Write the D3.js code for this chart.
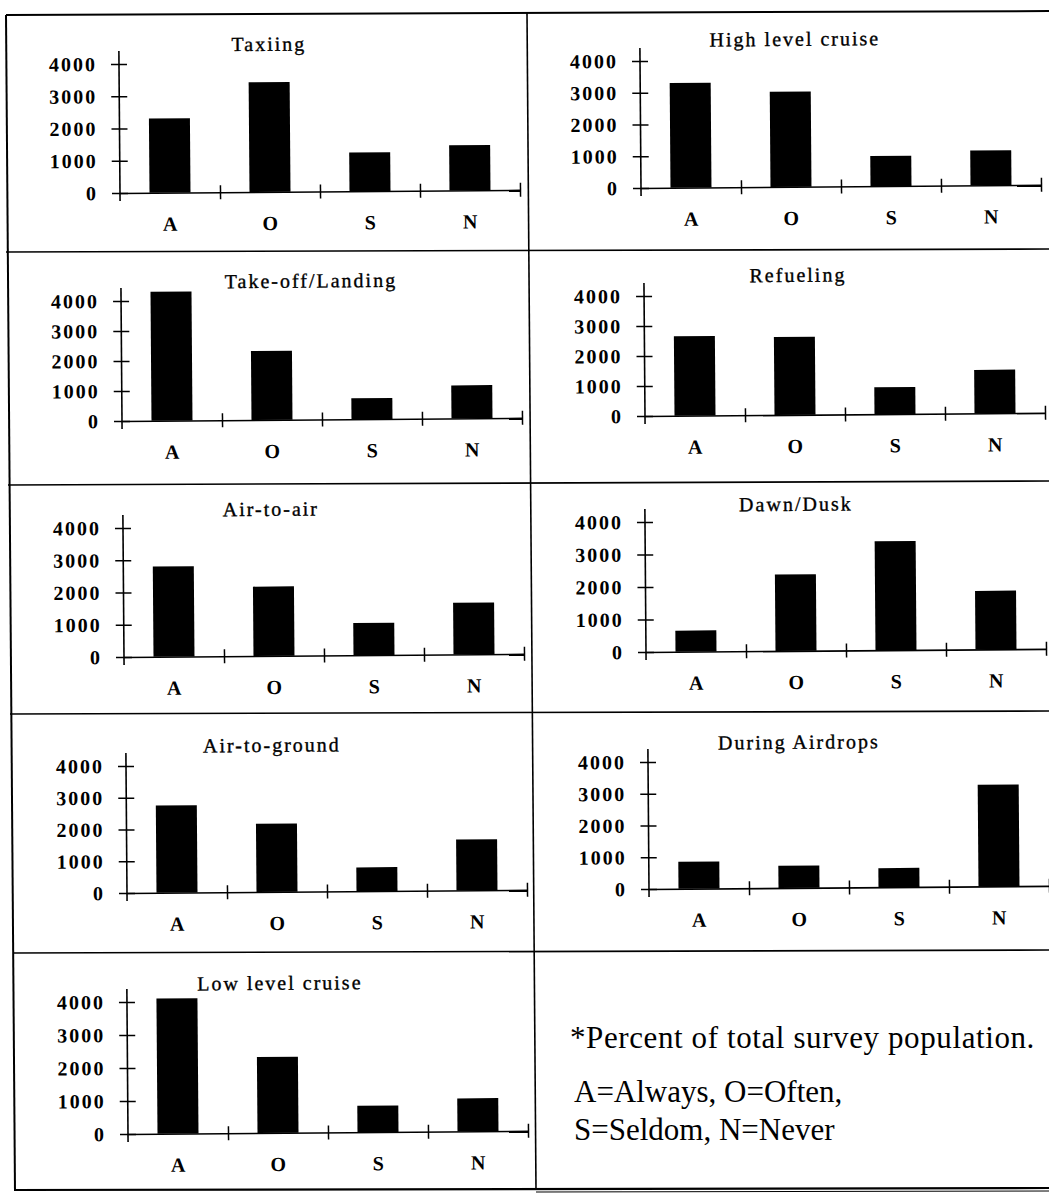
<!DOCTYPE html>
<html>
<head>
<meta charset="utf-8">
<script src="https://cdn.jsdelivr.net/npm/d3@7"></script>
<style>
  body { margin: 0; background: #fff; }
  svg { display: block; }
  .tick-label, .cat-label { font-family: "Liberation Serif", "Times New Roman", serif; font-weight: bold; font-size: 20px; fill: #000; }
  .tick-label { letter-spacing: 2px; }
  .panel-title { font-family: "Liberation Serif", "Times New Roman", serif; font-size: 20px; letter-spacing: 2px; fill: #000; stroke: #000; stroke-width: 0.35px; }
  .note { font-family: "Liberation Serif", "Times New Roman", serif; font-size: 31px; fill: #000; }
</style>
</head>
<body>
<svg id="chart" width="1049" height="1193"></svg>
<script>
// Response categories and value axis
const categories = ["A", "O", "S", "N"];
const yTicks = [0, 1000, 2000, 3000, 4000];

// Panel titles, in reading order (left, right, left, right ...)
const titles = [
  "Taxiing", "High level cruise",
  "Take-off/Landing", "Refueling",
  "Air-to-air", "Dawn/Dusk",
  "Air-to-ground", "During Airdrops",
  "Low level cruise"
];

// Counts per category (A, O, S, N) for each flight phase
const taxiing         = [2300, 3400, 1200, 1400];
const highLevelCruise = [3300, 3000,  950, 1100];
const takeoffLanding  = [4300, 2300,  700, 1100];
const refueling       = [2650, 2600,  900, 1450];
const airToAir        = [2800, 2150, 1000, 1600];
const dawnDusk        = [ 650, 2350, 3350, 1800];
const airToGround     = [2750, 2150,  750, 1600];
const duringAirdrops  = [ 850,  700,  600, 3200];
const lowLevelCruise  = [4100, 2300,  800, 1000];

// Key text shown in the last cell
const notes = [
  "*Percent of total survey population.",
  "A=Always, O=Often,",
  "S=Seldom, N=Never"
];

const series = [
  taxiing, highLevelCruise,
  takeoffLanding, refueling,
  airToAir, dawnDusk,
  airToGround, duringAirdrops,
  lowLevelCruise
];

// Placement of each small chart: axis origin x, pixel rows of 4000 and 0, title centre
const layout = [
  { x0: 120, yMax:   64, yZero:  193, tx: 270, ty:   52 },
  { x0: 641, yMax:   61, yZero:  188, tx: 796, ty:   47 },
  { x0: 122, yMax:  301, yZero:  421, tx: 312, ty:  289 },
  { x0: 645, yMax:  296, yZero:  416, tx: 799, ty:  283 },
  { x0: 124, yMax:  528, yZero:  657, tx: 272, ty:  517 },
  { x0: 646, yMax:  522, yZero:  652, tx: 797, ty:  512 },
  { x0: 127, yMax:  766, yZero:  893, tx: 273, ty:  753 },
  { x0: 649, yMax:  762, yZero:  889, tx: 800, ty:  750 },
  { x0: 128, yMax: 1002, yZero: 1134, tx: 281, ty:  991 }
];
const tilt = -0.45; // degrees; the whole page sits slightly askew

const svg = d3.select("#chart");

// Cell frame (slightly askew like the rest of the page)
const frame = svg.append("g").attr("fill", "none").attr("stroke", "#000");
const seg = (x1, y1, x2, y2, w) => frame.append("line")
  .attr("x1", x1).attr("y1", y1).attr("x2", x2).attr("y2", y2).attr("stroke-width", w);
seg(6, 15, 1056, 11, 2);           // top
seg(6, 15, 15, 1191, 2);           // left
seg(527, 13, 536, 1190, 1.6);      // centre divider
seg(6, 252, 1056, 249, 1.6);
seg(8, 485, 1056, 481, 1.6);
seg(10, 714, 1056, 711, 1.6);
seg(13, 953, 1056, 950, 1.6);
seg(15, 1190, 1056, 1188, 2.2);    // bottom
seg(536, 1192, 1056, 1191, 1);

// One small bar chart per cell
series.forEach((values, i) => {
  const L = layout[i];
  const x0 = L.x0, x1 = x0 + 400;
  const y = d3.scaleLinear().domain([0, 4000]).range([L.yZero, L.yMax]);
  const x = d3.scaleBand().domain(categories).range([x0, x1])
    .paddingInner(0.59).paddingOuter(0.295);
  const bounds = d3.scaleLinear().domain([0, categories.length]).range([x0, x1]);

  const g = svg.append("g")
    .attr("transform", `rotate(${tilt},${x0},${L.yZero})`);

  // Title
  g.append("text")
    .attr("class", "panel-title")
    .attr("x", L.tx)
    .attr("y", L.ty)
    .attr("text-anchor", "middle")
    .text(titles[i]);

  // Bars
  g.selectAll("rect.bar")
    .data(values)
    .join("rect")
    .attr("class", "bar")
    .attr("x", (d, k) => x(categories[k]))
    .attr("width", x.bandwidth())
    .attr("y", d => y(d))
    .attr("height", d => y(0) - y(d))
    .attr("fill", "#000");

  // Value axis with cross ticks
  const yAxis = g.append("g")
    .attr("transform", `translate(${x0},0)`)
    .call(d3.axisLeft(y).tickValues(yTicks).tickFormat(d3.format("d"))
      .tickSizeInner(8).tickSizeOuter(0).tickPadding(14));
  yAxis.select(".domain").remove();
  yAxis.selectAll(".tick line").attr("x1", 8).attr("x2", -8).attr("stroke-width", 1.5);
  yAxis.selectAll(".tick text").attr("class", "tick-label").attr("font-size", null).attr("font-family", null);
  yAxis.append("line")
    .attr("x1", 0).attr("x2", 0)
    .attr("y1", y(4000) - 13).attr("y2", y(0) + 8)
    .attr("stroke", "#000").attr("stroke-width", 1.6);

  // Category axis: line with crossing boundary ticks
  const xAxis = g.append("g")
    .attr("transform", `translate(0,${y(0)})`)
    .call(d3.axisBottom(bounds).tickValues([1, 2, 3, 4]).tickFormat("")
      .tickSizeInner(7).tickSizeOuter(0));
  xAxis.select(".domain").attr("stroke-width", 1.6);
  xAxis.selectAll(".tick line").attr("y1", -7).attr("y2", 7).attr("stroke-width", 1.5);

  // Category labels
  const catAxis = g.append("g")
    .attr("transform", `translate(0,${y(0)})`)
    .call(d3.axisBottom(x).tickSize(0).tickPadding(24));
  catAxis.select(".domain").remove();
  catAxis.selectAll(".tick text").attr("class", "cat-label").attr("font-size", null).attr("font-family", null);
});

// Key text in the last cell
const noteY = [1048, 1102, 1140];
svg.append("g").selectAll("text")
  .data(notes)
  .join("text")
  .attr("class", "note")
  .attr("x", (d, k) => k === 0 ? 570 : 574)
  .attr("y", (d, k) => noteY[k])
  .attr("letter-spacing", (d, k) => k === 0 ? 0.6 : 0)
  .text(d => d);
</script>
</body>
</html>
